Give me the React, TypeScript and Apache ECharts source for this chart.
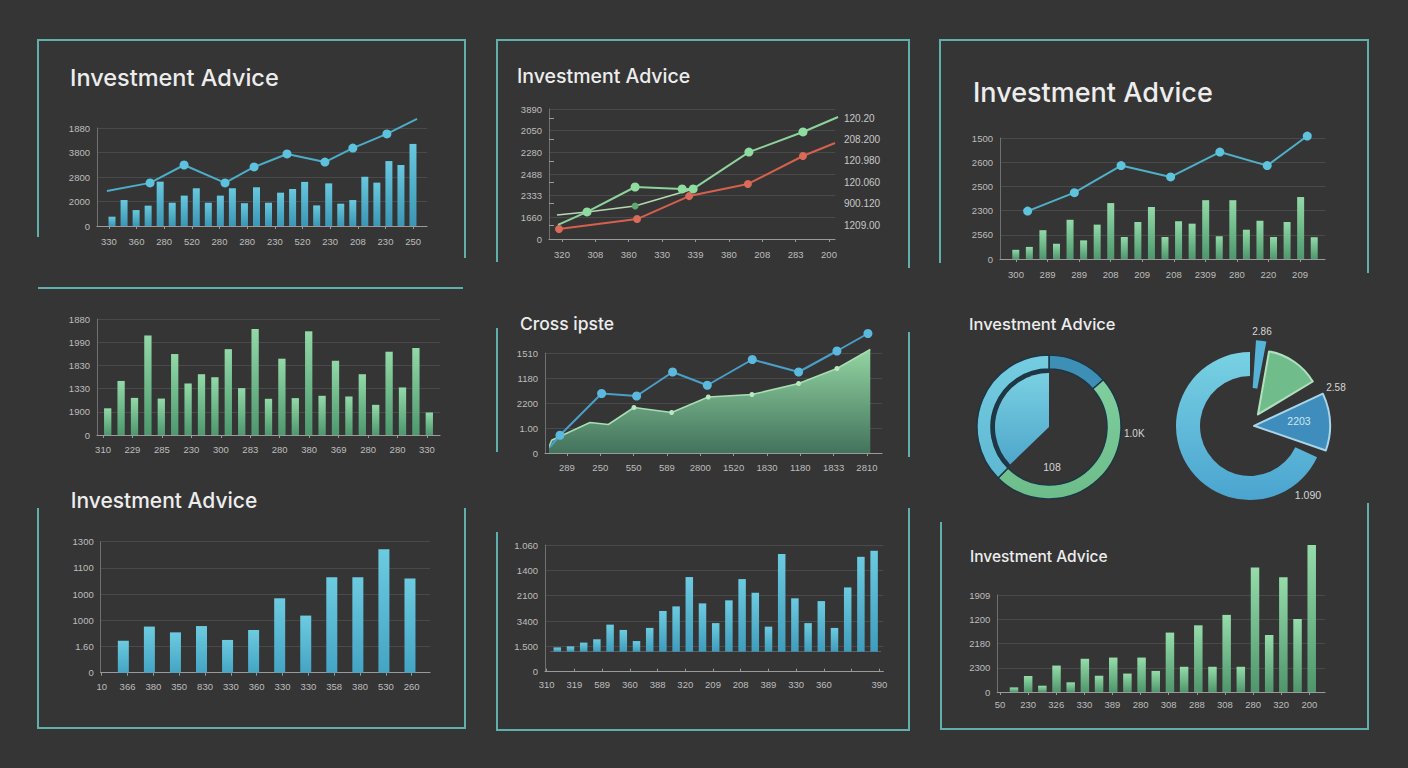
import React, { useEffect, useRef } from "react";
import * as echarts from "echarts";

// ---------------- data ----------------
// Panel 1 (top-left)
const p1YLabels = ["0", "2000", "2800", "3800", "1880"];
const p1XLabels = ["330", "360", "280", "520", "280", "280", "230", "520", "230", "208", "230", "250"];
const p1Bars = [38, 106, 65, 83, 181, 95, 124, 154, 95, 124, 154, 93, 158, 95, 136, 151, 180, 84, 174, 91, 106, 201, 177, 265, 249, 335];
const p1LineX = [-0.07, 1.49, 2.72, 4.2, 5.25, 6.44, 7.81, 8.82, 10.05, 11.14];
const p1LineY = [143, 176, 249, 176, 241, 294, 261, 318, 376, 437];
const p1LineMarks = [0, 1, 1, 1, 1, 1, 1, 1, 1, 0];

// Panel 2 (top-middle)
const p2YLabels = ["0", "1660", "2333", "2488", "2280", "2050", "3890"];
const p2RightLabels = ["1209.00", "900.120", "120.060", "120.980", "208.200", "120.20"];
const p2XLabels = ["320", "308", "380", "330", "339", "380", "208", "283", "200"];
const p2GreenX = [-0.12, 0.75, 2.19, 3.6, 3.93, 5.6, 7.22, 8.27];
const p2GreenY = [65, 125, 240, 231, 231, 401, 494, 563];
const p2GreenMarks = [0, 1, 1, 1, 1, 1, 1, 0];
const p2PaleX = [-0.15, 0.75, 2.19, 3.93];
const p2PaleY = [111, 125, 152, 231];
const p2PaleMarks = [0, 0, 1, 0];
const p2RedX = [-0.09, 2.25, 3.81, 5.57, 7.22, 8.18];
const p2RedY = [46, 92, 198, 254, 383, 443];
const p2RedMarks = [1, 1, 1, 1, 1, 0];

// Panel 3 (top-right)
const p3YLabels = ["0", "2560", "2300", "2500", "2600", "1500"];
const p3XLabels = ["300", "289", "289", "208", "209", "208", "2309", "280", "220", "209"];
const p3Bars = [38, 50, 119, 63, 162, 77, 142, 231, 91, 153, 215, 91, 156, 146, 243, 94, 243, 121, 158, 91, 153, 256, 90];
const p3LineX = [0.37, 1.85, 3.33, 4.9, 6.46, 7.96, 9.23];
const p3LineY = [198, 274, 386, 339, 442, 386, 508];
const p3LineMarks = [1, 1, 1, 1, 1, 1, 1];

// Panel 4 (middle-left)
const p4YLabels = ["0", "1900", "1330", "1830", "1990", "1880"];
const p4XLabels = ["310", "229", "285", "230", "300", "283", "280", "380", "369", "280", "280", "330"];
const p4Bars = [115, 233, 160, 429, 157, 349, 222, 262, 249, 370, 202, 457, 156, 329, 159, 447, 169, 320, 166, 262, 130, 359, 205, 375, 97];

// Panel 5 (middle-center)
const p5YLabels = ["0", "1.00", "2200", "1180", "1510"];
const p5XLabels = ["289", "250", "550", "589", "2800", "1520", "1830", "1180", "1833", "2810"];
const p5AreaX = [-0.56, -0.46, 0.69, 1.24, 2.01, 3.14, 4.24, 5.55, 6.95, 8.1, 9.1];
const p5AreaY = [18, 51, 122, 114, 182, 162, 224, 234, 278, 338, 414];
const p5AreaMarks = [0, 0, 0, 0, 1, 1, 1, 1, 1, 1, 0];
const p5LineX = [-0.51, -0.21, 1.04, 2.09, 3.17, 4.21, 5.56, 6.95, 8.1, 9.03];
const p5LineY = [24, 71, 238, 228, 324, 271, 374, 324, 408, 478];
const p5LineMarks = [0, 1, 1, 1, 1, 1, 1, 1, 1, 1];

// Panel 6 (donuts)
const donut1Ring = [49, 176, 135];
const donut1Inner = [226, 134];
const donut2Ring = [115, 245];
const donut2Sliver = [4, 7, 349];
const donut2Green = [10, 49, 301];
const donut2Blue = [65, 44, 251];
const donut1Labels = ["108", "1.0K"];
const donut2Labels = ["2.86", "2.58", "2203", "1.090"];

// Panel 7 (bottom-left)
const p7YLabels = ["0", "1.60", "1000", "1000", "1100", "1300"];
const p7XLabels = ["10", "366", "380", "350", "830", "330", "360", "330", "330", "358", "380", "530", "260"];
const p7Bars = [122, 176, 154, 178, 125, 163, 284, 218, 364, 364, 471, 360];

// Panel 8 (bottom-center)
const p8YLabels = ["0", "1.500", "3400", "2100", "1400", "1.060"];
const p8XLabels = ["310", "319", "589", "360", "388", "320", "209", "208", "389", "330", "360", "", "390"];
const p8Bars = [17, 21, 36, 49, 107, 86, 42, 94, 161, 179, 295, 191, 113, 203, 287, 233, 99, 386, 211, 113, 200, 94, 254, 375, 399];

// Panel 9 (bottom-right)
const p9YLabels = ["0", "2300", "2180", "1200", "1909"];
const p9XLabels = ["50", "230", "326", "330", "389", "280", "308", "288", "308", "280", "320", "200"];
const p9Bars = [19, 66, 26, 109, 40, 137, 67, 142, 76, 142, 87, 245, 104, 275, 104, 318, 104, 513, 235, 473, 301, 606];

const TITLE_MAIN = "Investment Advice";
const TITLE_CROSS = "Cross ipste";

// ---------------- styles ----------------
const BG = "#353535";
const FRAME = "#5fb0ac";
const AXIS = "#9a9a9a";
const YAXIS = "#707070";
const GRIDC = "#4a4a4a";
const LABEL = "#bdbdbd";
const FONT = "'Liberation Sans', Arial, sans-serif";
const TFONT = "Inter, 'Open Sans', sans-serif";

type Box = { left: number; top: number; width: number; height: number };

function grad(top: string, bottom: string) {
  return new echarts.graphic.LinearGradient(0, 0, 0, 1, [
    { offset: 0, color: top },
    { offset: 1, color: bottom },
  ]);
}

function buildOption() {
  const grid: any[] = [];
  const xAxis: any[] = [];
  const yAxis: any[] = [];
  const series: any[] = [];
  const graphic: any[] = [];

  const addGrid = (b: Box) => {
    grid.push({ ...b, containLabel: false, show: false });
    return grid.length - 1;
  };

  // grid holding y labels, split lines and the axis lines
  const frame = (b: Box, yLabels: string[]) => {
    const g = addGrid(b);
    const n = yLabels.length - 1;
    xAxis.push({
      gridIndex: g, type: "value", min: 0, max: 1,
      axisLine: { show: true, lineStyle: { color: AXIS, width: 1.2 } },
      axisTick: { show: false }, axisLabel: { show: false }, splitLine: { show: false },
    });
    yAxis.push({
      gridIndex: g, type: "value", min: 0, max: n * 100, interval: 100,
      axisLine: { show: true, lineStyle: { color: YAXIS, width: 1 } },
      axisTick: { show: false },
      axisLabel: {
        color: LABEL, fontSize: 9.5, fontFamily: FONT, margin: 7,
        formatter: (v: number) => yLabels[Math.round(v / 100)] ?? "",
      },
      splitLine: { show: true, lineStyle: { color: GRIDC, width: 1 } },
    });
  };

  // grid holding the category labels and the value axes for lines
  const labels = (b: Box, xLabels: string[], boundaryGap: boolean, nInt: number, margin: number, tickInside = false) => {
    const g = addGrid(b);
    xAxis.push({
      gridIndex: g, type: "category", data: xLabels, boundaryGap,
      axisLine: { show: false },
      axisTick: { show: true, alignWithLabel: true, inside: tickInside, length: 3, lineStyle: { color: AXIS } },
      axisLabel: { color: LABEL, fontSize: 9.5, fontFamily: FONT, margin, interval: 0 },
      splitLine: { show: false },
    });
    xAxis.push({
      gridIndex: g, type: "value", show: false,
      min: boundaryGap ? -0.5 : 0, max: boundaryGap ? xLabels.length - 0.5 : xLabels.length - 1,
    });
    const xVal = xAxis.length - 1;
    yAxis.push({ gridIndex: g, type: "value", show: false, min: 0, max: nInt * 100 });
    return { xVal, y: yAxis.length - 1 };
  };

  const bars = (b: Box, values: number[], max: number, barWidth: number, color: any, baseLine = false) => {
    const g = addGrid(b);
    xAxis.push({
      gridIndex: g, type: "category", data: values.map((_, i) => String(i)),
      axisLine: { show: baseLine, lineStyle: { color: "#5e5e5e" } },
      axisTick: { show: false }, axisLabel: { show: false }, splitLine: { show: false },
    });
    yAxis.push({ gridIndex: g, type: "value", show: false, min: 0, max });
    series.push({
      type: "bar", xAxisIndex: xAxis.length - 1, yAxisIndex: yAxis.length - 1,
      data: values, barWidth, itemStyle: { color }, clip: false, silent: true,
    });
  };

  const line = (
    ax: { xVal: number; y: number }, xs: number[], ys: number[], marks: number[],
    color: string, width: number, size: number, markColor: string, area?: any,
  ) => {
    series.push({
      type: "line", xAxisIndex: ax.xVal, yAxisIndex: ax.y, clip: false, silent: true,
      data: xs.map((x, i) => ({ value: [x, ys[i]], symbol: marks[i] ? "circle" : "none" })),
      symbolSize: size, showSymbol: true,
      lineStyle: { color, width },
      itemStyle: { color: markColor, borderWidth: 0 },
      areaStyle: area ? { color: area, opacity: 1, origin: "start" } : undefined,
      z: 5,
    });
  };

  const blueBar = grad("#68c8de", "#3b96b5");
  const greenBar = grad("#92d9a7", "#4d986e");

  // ---- Panel 1
  frame({ left: 97, top: 128, width: 330, height: 98 }, p1YLabels);
  const a1 = labels({ left: 95, top: 128, width: 332, height: 98 }, p1XLabels, true, 4, 10);
  bars({ left: 106, top: 128, width: 313, height: 98 }, p1Bars, 400, 7, blueBar);
  line(a1, p1LineX, p1LineY, p1LineMarks, "#4cadc9", 2, 9, "#5cc2dd");

  // ---- Panel 2
  frame({ left: 549, top: 109, width: 286, height: 130 }, p2YLabels);
  const a2 = labels({ left: 545.3, top: 109, width: 300.4, height: 130 }, p2XLabels, true, 6, 10);
  {
    const g = addGrid({ left: 549, top: 118, width: 286, height: 107 });
    xAxis.push({ gridIndex: g, type: "value", show: false, min: 0, max: 1 });
    yAxis.push({
      gridIndex: g, type: "value", position: "right", min: 0, max: 500, interval: 100,
      axisLine: { show: false },
      axisTick: { show: true, length: 5, lineStyle: { color: "#9a9a9a" } },
      axisLabel: {
        color: "#c8c8c8", fontSize: 10, fontFamily: FONT, margin: 9,
        formatter: (v: number) => p2RightLabels[Math.round(v / 100)] ?? "",
      },
      splitLine: { show: false },
    });
  }
  line(a2, p2PaleX, p2PaleY, p2PaleMarks, "#b5d9b2", 1.5, 7, "#5fa870");
  line(a2, p2RedX, p2RedY, p2RedMarks, "#d6604e", 2, 8, "#d96b58");
  line(a2, p2GreenX, p2GreenY, p2GreenMarks, "#8ed39b", 2, 9, "#8fdca0");

  // ---- Panel 3
  frame({ left: 1000, top: 138, width: 325, height: 121 }, p3YLabels);
  const a3 = labels({ left: 1000.2, top: 138, width: 315.6, height: 121 }, p3XLabels, true, 5, 10);
  bars({ left: 1009, top: 138, width: 312, height: 121 }, p3Bars, 500, 7, greenBar);
  line(a3, p3LineX, p3LineY, p3LineMarks, "#4fb0c8", 2, 9, "#5ec3dc");

  // ---- Panel 4
  frame({ left: 97, top: 319, width: 343, height: 116 }, p4YLabels);
  labels({ left: 88.3, top: 319, width: 353.4, height: 116 }, p4XLabels, true, 5, 9);
  bars({ left: 101, top: 319, width: 335, height: 116 }, p4Bars, 500, 7.3, greenBar);

  // ---- Panel 5
  frame({ left: 545, top: 353, width: 337, height: 100 }, p5YLabels);
  const a5 = labels({ left: 550.3, top: 353, width: 333.3, height: 100 }, p5XLabels, true, 4, 9);
  line(a5, p5AreaX, p5AreaY, p5AreaMarks, "#a8dfb2", 1.5, 5, "#b8e8c2",
    new echarts.graphic.LinearGradient(0, 0, 0, 1, [
      { offset: 0, color: "rgba(150,218,165,0.97)" },
      { offset: 1, color: "rgba(68,118,95,0.95)" },
    ]));
  line(a5, p5LineX, p5LineY, p5LineMarks, "#4a9fc8", 2, 9, "#5bb9de");

  // ---- Panel 6 (donuts)
  const pieBase = {
    type: "pie", startAngle: 90, clockwise: true, silent: true,
    label: { show: false }, labelLine: { show: false },
    emphasis: { disabled: true }, avoidLabelOverlap: false, z: 3,
  };
  const hidden = { color: "rgba(0,0,0,0)", borderWidth: 0 };
  series.push({
    ...pieBase, center: [1049, 427], radius: [58, 72],
    data: [
      { value: donut1Ring[0], itemStyle: { color: "#3d8fb6", borderColor: "#1f3644", borderWidth: 1.5 } },
      { value: donut1Ring[1], itemStyle: { color: grad("#7fcf9f", "#6dbd8a"), borderColor: "#1f3644", borderWidth: 1.5 } },
      { value: donut1Ring[2], itemStyle: { color: grad("#74cde0", "#5fb8d2"), borderColor: "#1f3644", borderWidth: 1.5 } },
    ],
  });
  series.push({
    ...pieBase, center: [1049, 427], radius: [54, 58],
    data: [
      { value: donut1Inner[0], itemStyle: hidden },
      { value: donut1Inner[1], itemStyle: { color: "#1f3644", borderWidth: 0 } },
    ],
  });
  series.push({
    ...pieBase, center: [1049, 427], radius: [0, 54],
    data: [
      { value: donut1Inner[0], itemStyle: hidden },
      { value: donut1Inner[1], itemStyle: { color: grad("#7ad0e2", "#4ea6cb"), borderWidth: 0 } },
    ],
  });
  series.push({
    ...pieBase, center: [1250, 426], radius: [50, 74],
    data: [
      { value: donut2Ring[0], itemStyle: hidden },
      { value: donut2Ring[1], itemStyle: { color: grad("#79d1e3", "#4aa4cf"), borderWidth: 0 } },
    ],
  });
  series.push({
    ...pieBase, center: [1250, 426], radius: [38, 86],
    data: [
      { value: donut2Sliver[0], itemStyle: hidden },
      { value: donut2Sliver[1], itemStyle: { color: "#56b4d8", borderWidth: 0 } },
      { value: donut2Sliver[2], itemStyle: hidden },
    ],
  });
  series.push({
    ...pieBase, center: [1250, 426], radius: [0, 64], selectedMode: true, selectedOffset: 14,
    data: [
      { value: donut2Green[0], itemStyle: hidden },
      { value: donut2Green[1], selected: true, itemStyle: { color: "#70bd8b", borderColor: "#b0e0bd", borderWidth: 2 } },
      { value: donut2Green[2], itemStyle: hidden },
    ],
  });
  series.push({
    ...pieBase, center: [1250, 426], radius: [0, 76], selectedMode: true, selectedOffset: 4,
    data: [
      { value: donut2Blue[0], itemStyle: hidden },
      { value: donut2Blue[1], selected: true, itemStyle: { color: "#3e8dbd", borderColor: "#a9d5e8", borderWidth: 2 } },
      { value: donut2Blue[2], itemStyle: hidden },
    ],
  });

  // ---- Panel 7
  frame({ left: 100.7, top: 541.7, width: 329.3, height: 131 }, p7YLabels);
  labels({ left: 101.7, top: 541.7, width: 310, height: 131 }, p7XLabels, false, 5, 9);
  bars({ left: 110.3, top: 541.7, width: 312.7, height: 131 }, p7Bars, 500, 11, grad("#6dcbe0", "#44a4c4"));

  // ---- Panel 8
  frame({ left: 545, top: 545, width: 338.3, height: 126.7 }, p8YLabels);
  labels({ left: 546.7, top: 545, width: 332.6, height: 126.7 }, p8XLabels, false, 5, 8, true);
  bars({ left: 550.7, top: 550.5, width: 330, height: 101.2 }, p8Bars, 400, 7.5, grad("#6ccbe0", "#3f9cbc"), true);

  // ---- Panel 9
  frame({ left: 997.3, top: 595, width: 327.7, height: 97 }, p9YLabels);
  labels({ left: 1000, top: 595, width: 309.3, height: 97 }, p9XLabels, false, 4, 7);
  bars({ left: 1006.9, top: 595, width: 311.9, height: 97 }, p9Bars, 400, 8.5, grad("#95dcaa", "#4f966c"));

  // ---------------- graphic: frames & titles ----------------
  const poly = (points: number[][]) => ({
    type: "polyline", silent: true, z: 1,
    shape: { points },
    style: { stroke: FRAME, lineWidth: 2, fill: "none" },
  });
  graphic.push(poly([[38, 237], [38, 40], [465, 40], [465, 258]]));
  graphic.push(poly([[497, 262], [497, 40], [909, 40], [909, 268]]));
  graphic.push(poly([[940, 263], [940, 40], [1368, 40], [1368, 273]]));
  graphic.push(poly([[38, 288], [463, 288]]));
  graphic.push(poly([[497, 328], [497, 452]]));
  graphic.push(poly([[909, 332], [909, 457]]));
  graphic.push(poly([[38, 508], [38, 728], [465, 728], [465, 508]]));
  graphic.push(poly([[497, 532], [497, 730], [909, 730], [909, 508]]));
  graphic.push(poly([[941, 522], [941, 729], [1368, 729], [1368, 503]]));

  const text = (t: string, x: number, y: number, size: number, opts: any = {}) => ({
    type: "text", x, y, silent: true, z: 10,
    style: {
      text: t, fill: opts.fill ?? "#ededed", fontSize: size,
      fontFamily: opts.family ?? TFONT, fontWeight: opts.weight ?? 500,
      align: opts.align ?? "left", verticalAlign: "middle",
      textAlign: opts.align ?? "left", textVerticalAlign: "middle",
    },
  });
  graphic.push(text(TITLE_MAIN, 70, 77, 23.5));
  graphic.push(text(TITLE_MAIN, 517, 76, 19.5));
  graphic.push(text(TITLE_MAIN, 973, 92, 27));
  graphic.push(text(TITLE_CROSS, 520, 323, 17.5));
  graphic.push(text(TITLE_MAIN, 969, 324, 16.5));
  graphic.push(text(TITLE_MAIN, 70.7, 500, 21));
  graphic.push(text(TITLE_MAIN, 970, 556, 15.5));

  const small = { family: FONT, weight: 400, fill: "#d6d6d6" };
  graphic.push(text(donut1Labels[0], 1052, 467, 10.5, { ...small, align: "center" }));
  graphic.push(text(donut1Labels[1], 1124, 433, 10, small));
  graphic.push(text(donut2Labels[0], 1262, 331, 10, { ...small, align: "center" }));
  graphic.push(text(donut2Labels[1], 1336, 387, 10, { ...small, align: "center" }));
  graphic.push(text(donut2Labels[2], 1299, 421, 10.5, { ...small, align: "center", fill: "#cfe6f2" }));
  graphic.push(text(donut2Labels[3], 1308, 495, 10.5, { ...small, align: "center" }));

  return {
    animation: false,
    backgroundColor: BG,
    grid, xAxis, yAxis, series, graphic,
  };
}

export default function App() {
  const ref = useRef<HTMLDivElement>(null);
  useEffect(() => {
    const el = ref.current;
    if (!el) return;
    const chart = echarts.init(el, undefined, { renderer: "svg", width: 1408, height: 768 });
    chart.setOption(buildOption());
    return () => chart.dispose();
  }, []);
  return (
    <div
      ref={ref}
      style={{ position: "fixed", left: 0, top: 0, width: 1408, height: 768, background: BG }}
    />
  );
}
